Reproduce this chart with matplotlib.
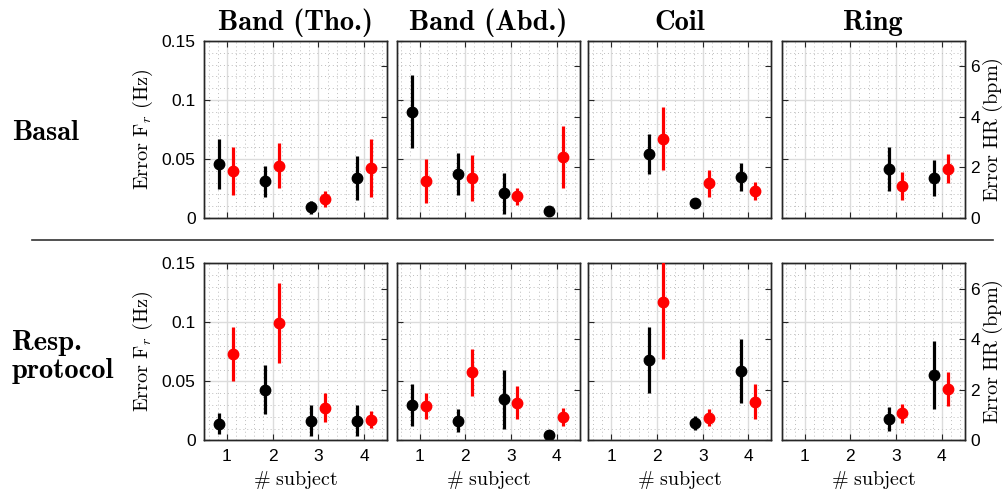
import numpy as np
import matplotlib
matplotlib.use('Agg')
import matplotlib.pyplot as plt
from matplotlib.ticker import MultipleLocator
from matplotlib.lines import Line2D

plt.rcParams['font.family'] = ['Liberation Sans', 'DejaVu Sans']
plt.rcParams['mathtext.fontset'] = 'cm'

nan = np.nan
subjects = np.array([1, 2, 3, 4])
sensors = ['Band (Tho.)', 'Band (Abd.)', 'Coil', 'Ring']
protocols = ['Basal', 'Resp.\nprotocol']

# error Fr (Hz), media y desviacion - fila Basal
fr_basal_tho = [0.046, 0.031, 0.009, 0.034]
fr_basal_tho_std = [0.021, 0.013, 0.0057, 0.0186]
fr_basal_abd = [0.090, 0.037, 0.021, 0.0057]
fr_basal_abd_std = [0.031, 0.0177, 0.0174, 0.0]
fr_basal_coil = [nan, 0.054, 0.013, 0.035]
fr_basal_coil_std = [nan, 0.017, 0.0, 0.012]
fr_basal_ring = [nan, nan, 0.0415, 0.034]
fr_basal_ring_std = [nan, nan, 0.019, 0.0155]

# error HR (bpm) - fila Basal
hr_basal_tho = [1.87, 2.07, 0.76, 1.99]
hr_basal_tho_std = [0.95, 0.90, 0.32, 1.15]
hr_basal_abd = [1.46, 1.59, 0.86, 2.40]
hr_basal_abd_std = [0.88, 0.92, 0.34, 1.23]
hr_basal_coil = [nan, 3.14, 1.37, 1.08]
hr_basal_coil_std = [nan, 1.25, 0.53, 0.36]
hr_basal_ring = [nan, nan, 1.28, 1.95]
hr_basal_ring_std = [nan, nan, 0.55, 0.58]

# error Fr (Hz) - fila protocolo respiratorio
fr_resp_tho = [0.0142, 0.043, 0.0167, 0.0167]
fr_resp_tho_std = [0.0092, 0.021, 0.013, 0.013]
fr_resp_abd = [0.030, 0.0167, 0.035, 0.0048]
fr_resp_abd_std = [0.0175, 0.010, 0.025, 0.0]
fr_resp_coil = [nan, 0.068, 0.0144, 0.0586]
fr_resp_coil_std = [nan, 0.028, 0.006, 0.027]
fr_resp_ring = [nan, nan, 0.018, 0.0555]
fr_resp_ring_std = [nan, nan, 0.010, 0.029]

# error HR (bpm) - fila protocolo respiratorio
hr_resp_tho = [3.42, 4.64, 1.29, 0.81]
hr_resp_tho_std = [1.07, 1.58, 0.58, 0.33]
hr_resp_abd = [1.35, 2.69, 1.49, 0.92]
hr_resp_abd_std = [0.52, 0.92, 0.64, 0.36]
hr_resp_coil = [nan, 5.48, 0.90, 1.53]
hr_resp_coil_std = [nan, 2.28, 0.32, 0.68]
hr_resp_ring = [nan, nan, 1.07, 2.02]
hr_resp_ring_std = [nan, nan, 0.38, 0.68]

fr = [[fr_basal_tho, fr_basal_abd, fr_basal_coil, fr_basal_ring],
      [fr_resp_tho, fr_resp_abd, fr_resp_coil, fr_resp_ring]]
fr_std = [[fr_basal_tho_std, fr_basal_abd_std, fr_basal_coil_std, fr_basal_ring_std],
          [fr_resp_tho_std, fr_resp_abd_std, fr_resp_coil_std, fr_resp_ring_std]]
hr = [[hr_basal_tho, hr_basal_abd, hr_basal_coil, hr_basal_ring],
      [hr_resp_tho, hr_resp_abd, hr_resp_coil, hr_resp_ring]]
hr_std = [[hr_basal_tho_std, hr_basal_abd_std, hr_basal_coil_std, hr_basal_ring_std],
          [hr_resp_tho_std, hr_resp_abd_std, hr_resp_coil_std, hr_resp_ring_std]]

W, H = 1008, 495
fig = plt.figure(figsize=(W / 100, H / 100), dpi=100)

lefts = [204, 396.7, 588.3, 781.7]
tops = [41, 263.3]
aw, ah = 183, 177
axcol = '#262626'

for r in range(2):
    for c in range(4):
        ax = fig.add_axes([lefts[c] / W, 1 - (tops[r] + ah) / H, aw / W, ah / H])
        ax2 = ax.twinx()

        ax.errorbar(subjects - 0.165, fr[r][c], yerr=fr_std[r][c], fmt='o', color='k',
                    ms=7.5, elinewidth=2.3, capsize=0, zorder=3)
        ax2.errorbar(subjects + 0.14, hr[r][c], yerr=hr_std[r][c], fmt='o', color='#ff0000',
                     ms=7.5, elinewidth=2.3, capsize=0, zorder=3)

        ax.set_xlim(0.5, 4.5)
        ax.set_ylim(0, 0.15)
        ax2.set_ylim(0, 7)
        ax.set_xticks([1, 2, 3, 4])
        ax.set_yticks([0, 0.05, 0.1, 0.15])
        ax2.set_yticks([0, 2, 4, 6])
        ax.xaxis.set_minor_locator(MultipleLocator(0.2))
        ax.yaxis.set_minor_locator(MultipleLocator(0.01))

        ax.grid(which='major', color='#dcdcdc', lw=1.0, zorder=0)
        ax.grid(which='minor', color='#bdbdbd', lw=0.7, linestyle=(0, (1, 3)), zorder=0)
        ax.set_axisbelow(True)

        ax.tick_params(which='major', direction='in', length=4, width=0.8, color=axcol,
                       top=True, right=False, labelsize=12.5, pad=6)
        ax.tick_params(which='minor', length=0)
        ax2.tick_params(direction='in', length=4, width=0.8, color=axcol, labelsize=12.5, pad=4)
        for a in (ax, ax2):
            for s in a.spines.values():
                s.set_color(axcol)
                s.set_linewidth(1.0)

        if c == 0:
            ax.set_yticklabels(['0', '0.05', '0.1', '0.15'])
            ax.set_ylabel(r'$\mathrm{Error\ F}_r\ \mathrm{(Hz)}$', fontsize=14.6, labelpad=5)
        else:
            ax.set_yticklabels([])
        if c == 3:
            ax2.set_yticklabels(['0', '2', '4', '6'])
            ax2.set_ylabel(r'$\mathrm{Error\ HR\ (bpm)}$', fontsize=14.6, rotation=90, labelpad=1)
        else:
            ax2.set_yticklabels([])
        if r == 1:
            ax.set_xlabel(r'$\#\ \mathrm{subject}$', fontsize=14.4, labelpad=4)
        else:
            ax.set_xticklabels([])
            ax.set_title(sensors[c], fontsize=20.5, family='cmb10', pad=8)

# etiquetas de fila
fig.text(12 / W, 1 - 133 / H, protocols[0], fontsize=20.5, family='cmb10', ha='left', va='center')
fig.text(12 / W, 1 - 357 / H, protocols[1], fontsize=20.5, family='cmb10',
         ha='left', va='center', linespacing=1.12)

# linea separadora
fig.add_artist(Line2D([32 / W, 993 / W], [1 - 239.5 / H, 1 - 239.5 / H],
                      color='#333333', lw=1.2))

fig.savefig('out.png', dpi=100)
